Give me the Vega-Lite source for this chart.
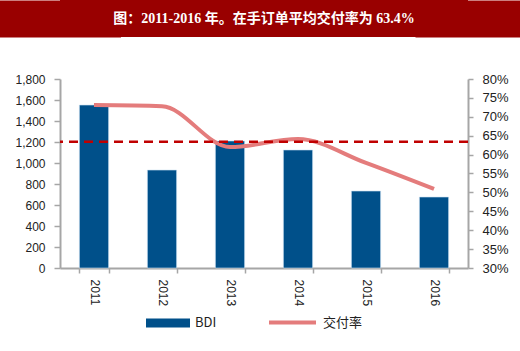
{
  "$schema": "https://vega.github.io/schema/vega-lite/v6.json",
  "padding": 0,
  "spacing": 36,
  "background": "white",
  "config": {"view": {"stroke": null}, "axis": {"grid": false}},
  "vconcat": [
    {
      "width": 408,
      "height": 37,
      "view": {"fill": "#990000", "stroke": null},
      "data": {"values": [{"title": "图：2011-2016 年。在手订单平均交付率为 63.4%", "blank": ""}]},
      "layer": [
        {
          "mark": {"type": "text", "color": "white", "font": "Liberation Serif, Noto Sans CJK SC", "fontSize": 14, "fontWeight": "bold", "baseline": "middle", "align": "center"},
          "encoding": {
            "text": {"field": "title"},
            "y": {"datum": 0, "type": "quantitative", "scale": {"domain": [-1, 1]},
              "axis": {"orient": "left", "title": null, "labels": false, "ticks": false, "domainColor": "#990000", "domainWidth": 121, "domainCap": "butt", "minExtent": 60}}
          }
        },
        {
          "mark": {"type": "text", "color": "white"},
          "encoding": {
            "text": {"field": "blank"},
            "y": {"datum": 0, "type": "quantitative", "scale": {"domain": [-1, 1]},
              "axis": {"orient": "right", "title": null, "labels": false, "ticks": false, "domainColor": "#990000", "domainWidth": 106, "domainCap": "butt", "minExtent": 52}}
          }
        }
      ],
      "resolve": {"scale": {"y": "independent"}}
    },
    {
      "width": 408,
      "height": 189,
      "data": {"values": [
        {"year": "2011", "bdi": 1552, "rate": 0.731},
        {"year": "2012", "bdi": 933, "rate": 0.728},
        {"year": "2013", "bdi": 1210, "rate": 0.620},
        {"year": "2014", "bdi": 1124, "rate": 0.641},
        {"year": "2015", "bdi": 733, "rate": 0.578},
        {"year": "2016", "bdi": 676, "rate": 0.509}
      ]},
      "layer": [
        {
          "mark": {"type": "bar", "stroke": "#cfe3f3", "strokeWidth": 0.6},
          "encoding": {
            "x": {"field": "year", "type": "ordinal", "scale": {"paddingInner": 0.57, "paddingOuter": 0.285},
              "axis": {"title": null, "labelAngle": 90, "labelAlign": "left", "labelBaseline": "middle", "tickBand": "extent", "domainColor": "#a6a6a6", "domainWidth": 2, "tickColor": "#a6a6a6", "tickWidth": 1.5, "tickSize": 5, "labelPadding": 6, "labelFont": "Liberation Sans", "labelFontSize": 12, "labelColor": "#222222"}},
            "y": {"field": "bdi", "type": "quantitative", "scale": {"domain": [0, 1800], "nice": false},
              "axis": {"title": null, "format": ",d", "values": [0, 200, 400, 600, 800, 1000, 1200, 1400, 1600, 1800], "domainColor": "#a6a6a6", "domainWidth": 2, "tickColor": "#a6a6a6", "tickWidth": 1.5, "tickSize": 6, "labelPadding": 9, "labelFont": "Liberation Sans", "labelFontSize": 12, "labelColor": "#222222", "minExtent": 60}},
            "fill": {"datum": "BDI", "type": "nominal",
              "scale": {"domain": ["BDI"], "range": ["#00508A"]},
              "legend": {"title": null, "orient": "none", "legendX": 86, "legendY": 301, "symbolType": "M-1,-0.2H1V0.2H-1Z", "symbolSize": 1936, "symbolStrokeWidth": 0, "labelFont": "Noto Sans CJK SC", "labelFontSize": 13, "labelColor": "#222222", "labelOffset": 5}}
          }
        },
        {
          "layer": [
            {
              "mark": {"type": "line", "interpolate": "monotone", "strokeWidth": 4},
              "encoding": {
                "x": {"field": "year", "type": "ordinal"},
                "y": {"field": "rate", "type": "quantitative", "scale": {"domain": [0.3, 0.8], "nice": false},
                  "axis": {"orient": "right", "title": null, "format": ".0%", "values": [0.3, 0.35, 0.4, 0.45, 0.5, 0.55, 0.6, 0.65, 0.7, 0.75, 0.8], "labelOverlap": false, "domainColor": "#a6a6a6", "domainWidth": 2, "tickColor": "#a6a6a6", "tickWidth": 1.5, "tickSize": 5, "labelPadding": 9, "labelFont": "Liberation Sans", "labelFontSize": 13, "labelColor": "#222222"}},
                "stroke": {"datum": "交付率", "type": "nominal",
                  "scale": {"domain": ["交付率"], "range": ["#E47C7C"]},
                  "legend": {"title": null, "orient": "none", "legendX": 207, "legendY": 297, "symbolType": "stroke", "symbolSize": 2209, "symbolStrokeWidth": 4, "labelFont": "Noto Sans CJK SC", "labelFontSize": 13, "labelColor": "#222222", "labelOffset": 5}}
              }
            },
            {
              "data": {"values": [{"avg": 0.634}]},
              "mark": {"type": "rule", "color": "#C00000", "strokeWidth": 2.5, "strokeDash": [9, 6]},
              "encoding": {"y": {"field": "avg", "type": "quantitative",
                "axis": {"orient": "right", "title": null, "format": ".0%", "values": [0.3, 0.35, 0.4, 0.45, 0.5, 0.55, 0.6, 0.65, 0.7, 0.75, 0.8], "labelOverlap": false, "domainColor": "#a6a6a6", "domainWidth": 2, "tickColor": "#a6a6a6", "tickWidth": 1.5, "tickSize": 5, "labelPadding": 9, "labelFont": "Liberation Sans", "labelFontSize": 13, "labelColor": "#222222"}}}
            }
          ]
        }
      ],
      "resolve": {"scale": {"y": "independent"}}
    }
  ]
}
